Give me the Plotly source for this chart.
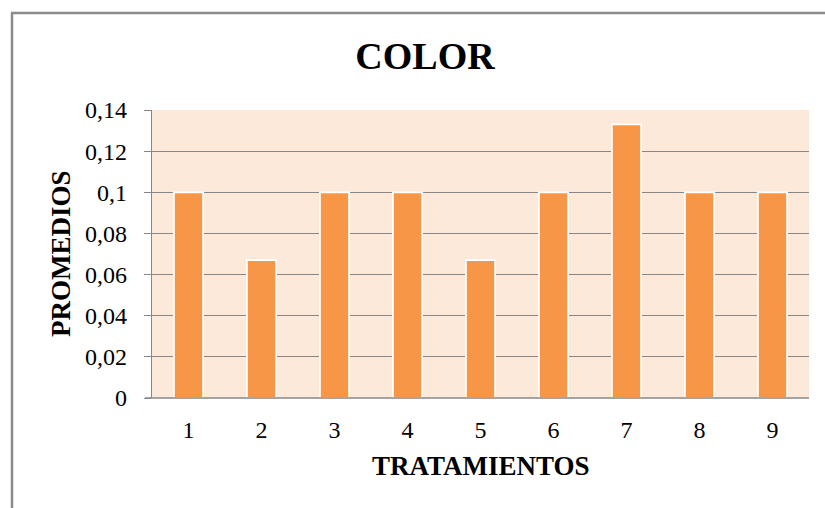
import plotly.graph_objects as go

categories = ["1", "2", "3", "4", "5", "6", "7", "8", "9"]
values = [0.1, 0.067, 0.1, 0.1, 0.067, 0.1, 0.133, 0.1, 0.1]
y_ticks = [0, 0.02, 0.04, 0.06, 0.08, 0.1, 0.12, 0.14]
y_tick_labels = ["0", "0,02", "0,04", "0,06", "0,08", "0,1", "0,12", "0,14"]

W, H = 825, 508
L, R, T, B = 152, 16, 110, 110
pw, ph = W - L - R, H - T - B

def px_x(x):
    return (x - L) / pw

def px_y(y):
    return (H - B - y) / ph

serif = "Liberation Serif, Times New Roman, serif"

fig = go.Figure(go.Bar(
    x=categories, y=values,
    marker=dict(color="#F79646", line=dict(color="white", width=1.8)),
    width=0.4,
))

fig.update_layout(
    width=W, height=H,
    margin=dict(l=L, r=R, t=T, b=B),
    paper_bgcolor="white",
    plot_bgcolor="#FDE9D9",
    showlegend=False,
    font=dict(family=serif, color="black"),
    title=dict(text="<b>COLOR</b>", x=425 / W, xanchor="center",
               y=1 - 56 / H, yanchor="middle", yref="container",
               font=dict(size=38, family=serif, color="black")),
    xaxis=dict(type="category", showgrid=False, showline=False,
               ticks="", tickfont=dict(size=24, family=serif),
               ticklabelstandoff=15),
    yaxis=dict(range=[0, 0.14], tickvals=y_ticks, ticktext=y_tick_labels,
               showgrid=True, gridcolor="#878787", gridwidth=1.2,
               showline=True, linecolor="#878787", linewidth=1.2,
               ticks="outside", ticklen=7, tickcolor="#878787",
               tickfont=dict(size=24, family=serif),
               ticklabelstandoff=12, zeroline=False),
    annotations=[
        dict(text="<b>PROMEDIOS</b>", x=px_x(61), y=0.5, xref="paper", yref="paper",
             xanchor="center", yanchor="middle", textangle=-90, showarrow=False,
             font=dict(size=27, family=serif, color="black")),
        dict(text="<b>TRATAMIENTOS</b>", x=px_x(481), y=px_y(466), xref="paper", yref="paper",
             xanchor="center", yanchor="middle", showarrow=False,
             font=dict(size=27, family=serif, color="black")),
    ],
    shapes=[
        dict(type="line", xref="paper", yref="paper", x0=px_x(145), x1=1, y0=0, y1=0,
             line=dict(color="#878787", width=1.5)),
        dict(type="line", xref="paper", yref="paper", x0=px_x(12), x1=px_x(12),
             y0=px_y(H + 5), y1=px_y(13), line=dict(color="#8A8A8A", width=2.5)),
        dict(type="line", xref="paper", yref="paper", x0=px_x(11), x1=px_x(W + 5),
             y0=px_y(13), y1=px_y(13), line=dict(color="#8A8A8A", width=2.5)),
    ],
)

fig.write_html("out.html", config={"displayModeBar": False},
               post_script="document.body.style.margin='0';document.body.style.overflow='hidden';")
